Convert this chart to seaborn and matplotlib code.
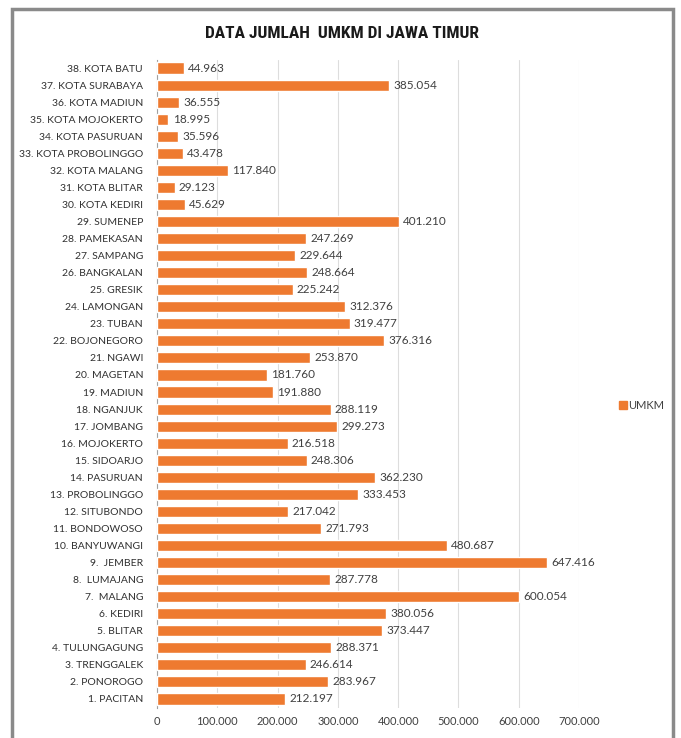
import matplotlib
matplotlib.use("Agg")
import matplotlib.pyplot as plt
import matplotlib.patches as mpatches
from matplotlib.lines import Line2D
import seaborn as sns
import numpy as np
import pandas as pd

categories = [
    "38. KOTA BATU", "37. KOTA SURABAYA", "36. KOTA MADIUN", "35. KOTA MOJOKERTO",
    "34. KOTA PASURUAN", "33. KOTA PROBOLINGGO", "32. KOTA MALANG", "31. KOTA BLITAR",
    "30. KOTA KEDIRI", "29. SUMENEP", "28. PAMEKASAN", "27. SAMPANG", "26. BANGKALAN",
    "25. GRESIK", "24. LAMONGAN", "23. TUBAN", "22. BOJONEGORO", "21. NGAWI",
    "20. MAGETAN", "19. MADIUN", "18. NGANJUK", "17. JOMBANG", "16. MOJOKERTO",
    "15. SIDOARJO", "14. PASURUAN", "13. PROBOLINGGO", "12. SITUBONDO",
    "11. BONDOWOSO", "10. BANYUWANGI", "9.  JEMBER", "8.  LUMAJANG", "7.  MALANG",
    "6. KEDIRI", "5. BLITAR", "4. TULUNGAGUNG", "3. TRENGGALEK", "2. PONOROGO",
    "1. PACITAN",
]
umkm = [
    44963, 385054, 36555, 18995, 35596, 43478, 117840, 29123, 45629, 401210,
    247269, 229644, 248664, 225242, 312376, 319477, 376316, 253870, 181760,
    191880, 288119, 299273, 216518, 248306, 362230, 333453, 217042, 271793,
    480687, 647416, 287778, 600054, 380056, 373447, 288371, 246614, 283967,
    212197,
]
x_ticks = [0, 100000, 200000, 300000, 400000, 500000, 600000, 700000]
title = "DATA JUMLAH  UMKM DI JAWA TIMUR"
series_name = "UMKM"

def fmt(v):
    return f"{v:,}".replace(",", ".")

df = pd.DataFrame({"kab": categories, "umkm": umkm})

sns.set_style("white")
plt.rcParams["font.family"] = ["Lato", "DejaVu Sans"]

fig = plt.figure(figsize=(6.81, 7.38), dpi=100)
ax = fig.add_axes([157 / 681, 30.5 / 738, 422 / 681, 648 / 738])

bar_color = "#EE7A30"
sns.barplot(data=df, x="umkm", y="kab", order=categories, color=bar_color,
            width=0.65, ax=ax, saturation=1, zorder=3)

ax.set_xlim(0, 700000)
ax.set_xticks(x_ticks)
ax.set_xticklabels([fmt(v) for v in x_ticks], fontsize=8, color="#404040")
ax.tick_params(axis="x", length=0, pad=6)
ax.tick_params(axis="y", which="major", length=0, labelsize=7.5, labelcolor="#303030", pad=10)
ax.set_yticks(np.arange(-0.5, len(categories), 1), minor=True)
ax.tick_params(axis="y", which="minor", length=4, color="#A0A0A0", width=0.8)
ax.set_xlabel("")
ax.set_ylabel("")
ax.grid(axis="x", color="#DDDDDD", linewidth=0.8, zorder=0)
for s in ["top", "right", "bottom"]:
    ax.spines[s].set_visible(False)
ax.spines["left"].set_color("#A0A0A0")
ax.spines["left"].set_linewidth(0.8)

for cont in ax.containers:
    ax.bar_label(cont, labels=[fmt(v) for v in umkm], padding=3,
                 fontsize=8.5, color="#404040")

handle = Line2D([], [], marker="s", linestyle="none", markersize=6,
                markerfacecolor=bar_color, markeredgecolor=bar_color)
fig.legend([handle], [series_name], loc="center left",
           bbox_to_anchor=(0.893, 0.451), frameon=False, fontsize=8,
           handletextpad=0.1, labelcolor="#404040", handlelength=0.8)

fig.text(342 / 681, 1 - 33.5 / 738, title, ha="center", va="center",
         fontsize=12.5, fontweight="bold", color="#1a1a1a",
         family=["Roboto Condensed", "DejaVu Sans Condensed", "Roboto", "DejaVu Sans"],
         fontstretch="condensed")

frame = mpatches.Rectangle((12 / 681, -0.05), (673 - 12) / 681, 1.05 - 9 / 738,
                           transform=fig.transFigure, fill=False,
                           edgecolor="#8A8A8A", linewidth=2.5)
fig.patches.append(frame)

fig.savefig("out.png", dpi=100)
